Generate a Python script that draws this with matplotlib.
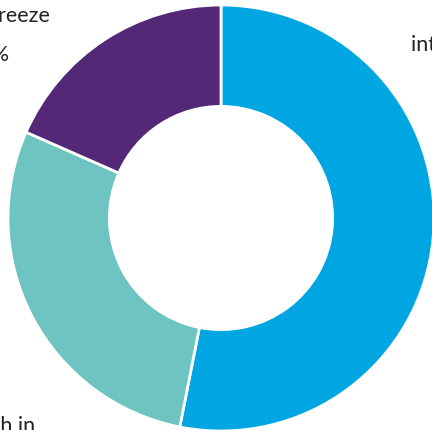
import matplotlib
matplotlib.use("Agg")
import matplotlib.pyplot as plt

labels = ["intend to keep hiring", "Growth in\nheadcount", "Hiring freeze"]
shares = [53.1, 28.5, 18.4]
colors = ["#00A6E2", "#6EC4C0", "#532877"]

plt.rcParams["font.family"] = ["Lato", "DejaVu Sans"]

fig = plt.figure(figsize=(4.32, 4.31), dpi=100)
W, H = 432, 431
cx, cy, r = 221, 219, 213  # pie centre and radius in pixels
ax = fig.add_axes([(cx - r) / W, (H - cy - r) / H, 2 * r / W, 2 * r / H])

ax.pie(
    shares,
    colors=colors,
    startangle=90,
    counterclock=False,
    radius=1.0,
    wedgeprops=dict(width=0.476, edgecolor="white", linewidth=2),
)
ax.set_xlim(-1, 1)
ax.set_ylim(-1, 1)
ax.set_aspect("equal")
ax.axis("off")


def px(x, y):
    # pixel position -> data coords of the pie axes
    return (x - cx) / r, (cy - y) / r


texts = [f"{lab}\n{v:.0f}%" for lab, v in zip(labels, shares)]
kw = dict(fontsize=15.5, color="#222222", linespacing=2.2, clip_on=False)

x, y = px(411, 35)
ax.text(x, y, texts[0], ha="left", va="top", multialignment="center", **kw)
x, y = px(-12, 416)
ax.text(x, y, texts[1], ha="center", va="top", **kw)
x, y = px(-12, 6)
ax.text(x, y, texts[2], ha="center", va="top", **kw)

fig.savefig("out.png", dpi=100)
